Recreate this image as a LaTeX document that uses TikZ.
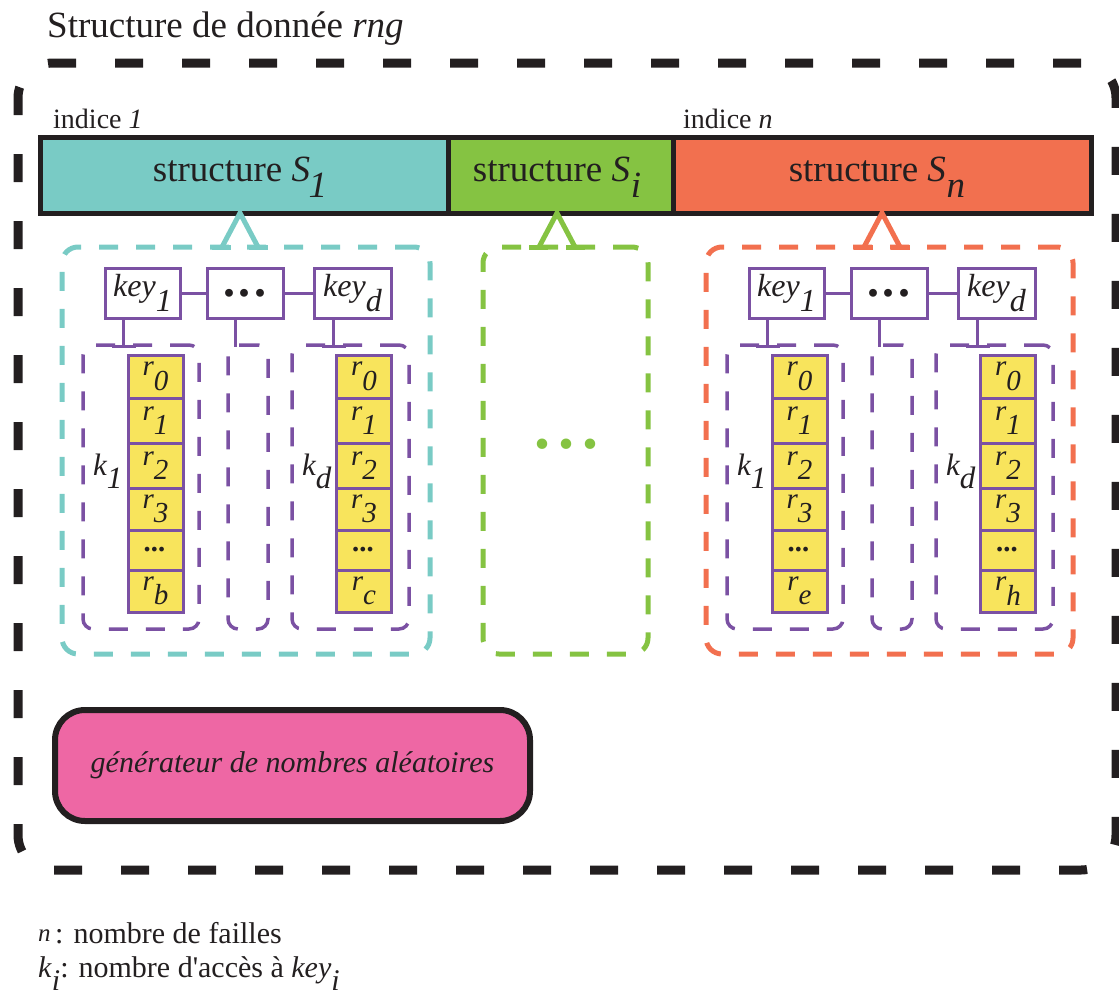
\documentclass[tikz,border=0pt]{standalone}
\usepackage{fontspec}
\setmainfont{Liberation Serif}[Ligatures=TeXOff]
\usetikzlibrary{calc}
\definecolor{cyanc}{HTML}{79CBC5}
\definecolor{greenc}{HTML}{85C342}
\definecolor{orangec}{HTML}{F2704F}
\definecolor{yelc}{HTML}{F8E45C}
\definecolor{purc}{HTML}{7B51A3}
\definecolor{pinkc}{HTML}{EE67A4}
\definecolor{inkc}{HTML}{231F20}
\newcommand{\fs}[1]{\fontsize{#1}{#1}\selectfont}
\newcommand{\sbs}[2][0.45em]{\raisebox{-#1}{#2}}
\begin{document}
\begin{tikzpicture}[x=1pt,y=-1pt,
  every node/.append style={text=inkc, inner sep=0pt},
  frame/.style={draw=inkc, line width=9pt, dash pattern=on 28pt off 39pt, rounded corners=35pt, minimum width=1098pt, minimum height=807pt},
  seg/.style={draw=inkc, line width=5pt, minimum height=76pt},
  grp/.style={line width=5pt, dash pattern=on 19pt off 18pt, rounded corners=16pt, minimum height=407pt},
  pbox/.style={draw=purc, line width=3.5pt, dash pattern=on 19pt off 18pt, rounded corners=10pt, minimum height=284pt},
  keyb/.style={draw=purc, line width=3pt, fill=white, minimum height=50pt},
  cell/.style={draw=purc, line width=3pt, fill=yelc, minimum width=55pt},
  gen/.style={draw=inkc, line width=6pt, fill=pinkc, rounded corners=30pt, minimum width=475pt, minimum height=111pt},
  pline/.style={draw=purc, line width=3pt},
]
\useasboundingbox (0,0) rectangle (1119,999);

% outer frame
\node[frame] (frame) at (567,466.5) {};
\node[anchor=base west] (title) at (47,37) {\fs{37}Structure de donnée \textit{rng}};

% indices
\node[anchor=base west] (ind1) at (53,128) {\fs{28}indice \textit{1}};
\node[anchor=base west] (indn) at (683,128) {\fs{28}indice \textit{n}};

% top bar
\node[seg, fill=cyanc, minimum width=408pt] (s1) at (244,175) {};
\node[seg, fill=greenc, minimum width=225pt] (si) at (560.5,175) {};
\node[seg, fill=orangec, minimum width=418pt] (sn) at (882,175) {};
\node[anchor=base] (s1t) at (240,181) {\fs{37}structure \textit{S}\kern-0.04em\smash{\sbs{\textit{1}}}};
\node[anchor=base] (sit) at (557,181) {\fs{37}structure \textit{S}\kern0.02em\smash{\sbs{\textit{i}}}};
\node[anchor=base] (snt) at (877,181) {\fs{37}structure \textit{S}\kern0.02em\smash{\sbs{\textit{n}}}};

% group boxes
\node[grp, draw=cyanc, minimum width=368pt] (g1) at (246,450.5) {};
\node[grp, draw=greenc, minimum width=165pt] (gi) at (565.5,450.5) {};
\node[grp, draw=orangec, minimum width=367pt] (gn) at (889.5,450.5) {};

% forks from bar to group boxes
\foreach \ax/\c/\nm in {240/cyanc/1, 557/greenc/i, 882/orangec/n} {
  \coordinate (ap\nm) at (\ax,213);
  \draw[\c, line width=5pt] (\ax-18,247) -- (ap\nm) -- (\ax+18,247);
  \draw[\c, line width=5pt] (\ax-28,247) -- (\ax-9,247) (\ax+9,247) -- (\ax+28,247);
}

% green dots
\node[anchor=base, text=greenc] (gdots) at (566,448) {\fs{64}\bfseries .\hspace{8pt}.\hspace{8pt}.};

% two detailed structures
\foreach \s/\dx/\la/\lb in {L/0/b/c, R/644/e/h} {
\begin{scope}[xshift=\dx pt]
  \node[keyb, minimum width=75pt] (ka\s) at (142.5,293) {\fs{32}\itshape key\sbs{1}};
  \node[keyb, minimum width=76pt] (kb\s) at (245,293) {\fs{48}\bfseries .\hspace{3.5pt}.\hspace{3.5pt}.};
  \node[keyb, minimum width=77pt] (kc\s) at (352.5,293) {\fs{32}\itshape key\sbs{d}};
  \draw[pline] (ka\s) -- (kb\s) (kb\s) -- (kc\s);
  \node[pbox, minimum width=116pt] (pa\s) at (141,487) {};
  \node[pbox, minimum width=40pt] (pb\s) at (248,487) {};
  \node[pbox, minimum width=117pt] (pc\s) at (350.5,487) {};
  \draw[pline] (ka\s.south west) ++(20,0) -- ++(0,27) ++(-12,0) -- ++(24,0);
  \draw[pline] (kb\s.south west) ++(30,0) -- ++(0,27);
  \draw[pline] (kc\s.south west) ++(21,0) -- ++(0,27) ++(-12,0) -- ++(24,0);
  \node[anchor=base west] (kl1\s) at (93,475) {\fs{31}\itshape k\sbs{1}};
  \node[anchor=base west] (kld\s) at (302,475) {\fs{31}\itshape k\sbs{d}};
  \foreach \cx/\cn/\last in {155.5/1/\la, 364/d/\lb} {
    \foreach \yc/\h/\t [count=\i] in {376.5/43/{r\sbs[0.5em]{0}}, 420.5/45/{r\sbs[0.5em]{1}}, 465.5/45/{r\sbs[0.5em]{2}}, 509/42/{r\sbs[0.5em]{3}}, 550/40/{\textbf{...}}, 591/42/{r\sbs[0.5em]{\last}}} {
      \node[cell, minimum height=\h pt] (c\cn\i\s) at (\cx,\yc) {\fs{29}\itshape \t};
    }
  }
\end{scope}
}

% generator
\node[gen] (gen) at (292.5,765.5) {\fs{30}\itshape générateur de nombres aléatoires};

% legend
\node[anchor=base west] (leg1n) at (38,941) {\fs{25}\itshape n};
\node[anchor=base west] (leg1) at (55,943) {\fs{30}: nombre de failles};
\node[anchor=base west] (leg2) at (38,977) {\fs{30}\textit{k}\sbs{\textit{i}}: nombre d'accès à \textit{key}\sbs{\textit{i}}};
\end{tikzpicture}
\end{document}
